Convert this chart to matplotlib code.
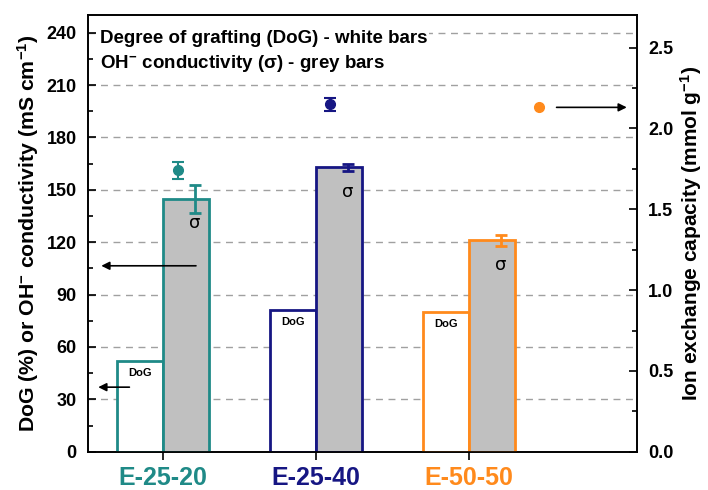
import matplotlib
matplotlib.use("Agg")
import matplotlib.pyplot as plt
from matplotlib.ticker import MultipleLocator
import numpy as np

plt.rcParams['font.family'] = ['Liberation Sans', 'DejaVu Sans']
plt.rcParams['font.weight'] = 'bold'
plt.rcParams['axes.labelweight'] = 'bold'
plt.rcParams['mathtext.fontset'] = 'custom'
plt.rcParams['mathtext.rm'] = 'Liberation Sans:bold'
plt.rcParams['mathtext.it'] = 'Liberation Sans:bold'
plt.rcParams['mathtext.bf'] = 'Liberation Sans:bold'
plt.rcParams['mathtext.default'] = 'rm'

samples = ['E-25-20', 'E-25-40', 'E-50-50']
colors = ['#1f8a87', '#161683', '#ff8a1c']
dog = [52, 81, 80]
sigma = [145, 163, 121]
sigma_err = [8, 2, 3]
iec = [1.74, 2.15, 2.13]
iec_err = [0.05, 0.04, 0.0]

x = np.arange(len(samples))
w = 0.30
iec_x = [0.10, 1.09, 2.46]  # marker positions along the category axis

fig = plt.figure(figsize=(7.08, 4.90), dpi=100)
ax = fig.add_axes([0.124, 0.078, 0.776, 0.891])
ax2 = ax.twinx()

ax.set_zorder(ax2.get_zorder() + 1)
ax.patch.set_visible(False)

for yg in range(30, 250, 30):
    ax2.axhline(yg * 2.7 / 250, color='#a0a0a0', lw=1, ls=(0, (5, 4)), zorder=0)

for i in range(len(samples)):
    ax.bar(x[i] - w / 2, dog[i], w, color='white', edgecolor=colors[i], lw=2, zorder=2)
    ax.bar(x[i] + w / 2, sigma[i], w, color='#c0c0c0', edgecolor=colors[i], lw=2, zorder=2)
    ax.errorbar(x[i] + w / 2 + 0.06, sigma[i], yerr=sigma_err[i], color=colors[i],
                lw=2, capsize=4, capthick=2, fmt='none', zorder=3)
    ax.text(x[i] - w / 2, dog[i] - 4, 'DoG', ha='center', va='top', fontsize=8, zorder=4)
    ax.text(x[i] + w / 2 + 0.06, sigma[i] - 9, 'σ', ha='center', va='top',
            fontsize=13, fontweight='normal', family='DejaVu Sans', zorder=4)
    if iec_err[i] > 0:
        ax2.errorbar(iec_x[i], iec[i], yerr=iec_err[i], color=colors[i], fmt='o', ms=7,
                     lw=1.5, capsize=4, capthick=1.5)
    else:
        ax2.plot(iec_x[i], iec[i], 'o', color=colors[i], ms=7)

# arrows pointing to the relevant axis
ax.annotate('', xy=(-0.42, 106.5), xytext=(0.235, 106.5),
            arrowprops=dict(arrowstyle='-|>', color='black', lw=1.2, mutation_scale=12), zorder=5)
ax.annotate('', xy=(-0.44, 37), xytext=(-0.2, 37),
            arrowprops=dict(arrowstyle='-|>', color='black', lw=1.2, mutation_scale=12), zorder=5)
ax2.annotate('', xy=(3.05, 2.13), xytext=(2.555, 2.13),
             arrowprops=dict(arrowstyle='-|>', color='black', lw=1.2, mutation_scale=12))

ax.set_xlim(-0.49, 3.1)
ax.set_ylim(0, 250)
ax2.set_ylim(0, 2.7)

ax.set_xticks(x)
ax.set_xticklabels(samples, fontsize=18)
for lab, c in zip(ax.get_xticklabels(), colors):
    lab.set_color(c)
ax.tick_params(axis='x', direction='out', length=6, width=1.2, pad=4)

ax.yaxis.set_major_locator(MultipleLocator(30))
ax.yaxis.set_minor_locator(MultipleLocator(15))
ax.tick_params(axis='y', which='major', direction='in', length=6, width=1.2, labelsize=13, pad=8)
ax.tick_params(axis='y', which='minor', direction='in', length=3.5, width=1.2)
ax.set_yticks(range(0, 241, 30))

ax2.yaxis.set_major_locator(MultipleLocator(0.5))
ax2.yaxis.set_minor_locator(MultipleLocator(0.25))
ax2.set_yticks(np.arange(0, 2.6, 0.5))
ax2.tick_params(axis='y', which='major', direction='in', length=6, width=1.2, labelsize=13, pad=8)
ax2.tick_params(axis='y', which='minor', direction='in', length=3.5, width=1.2)
ax2.yaxis.set_major_formatter(plt.FuncFormatter(lambda v, p: f'{v:.1f}'))

for a in (ax, ax2):
    for s in a.spines.values():
        s.set_linewidth(1.2)

ax.set_ylabel('DoG (%) or OH$^{-}$ conductivity (mS cm$^{-1}$)', fontsize=15.3, labelpad=4)
ax2.set_ylabel('Ion exchange capacity (mmol g$^{-1}$)', fontsize=15, labelpad=3)

ax.text(0.022, 0.947, 'Degree of grafting (DoG) - white bars', transform=ax.transAxes,
        fontsize=13.5, va='center', zorder=6,
        bbox=dict(facecolor='white', edgecolor='none', pad=1))
ax.text(0.022, 0.889, 'OH$^{-}$ conductivity (σ) - grey bars', transform=ax.transAxes,
        fontsize=13.5, va='center', zorder=6,
        bbox=dict(facecolor='white', edgecolor='none', pad=1))

fig.savefig('out.png', dpi=100)
